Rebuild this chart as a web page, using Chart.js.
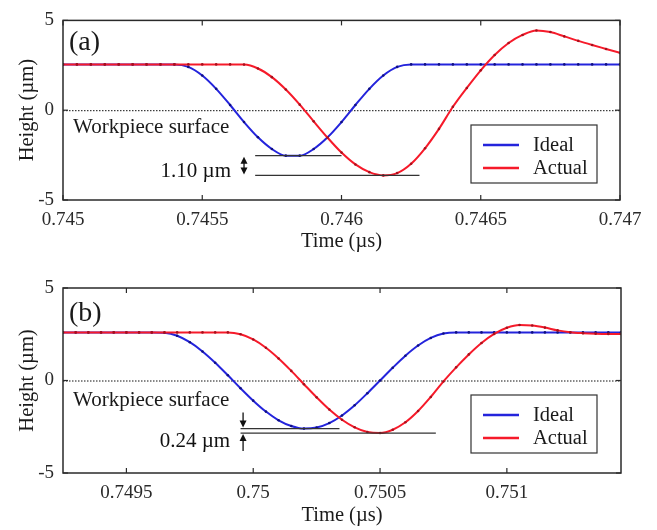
<!DOCTYPE html>
<html>
<head>
<meta charset="utf-8">
<script src="https://cdn.jsdelivr.net/npm/chart.js@4.4.1/dist/chart.umd.min.js"></script>
<style>
  html, body { margin: 0; padding: 0; background: #fff; }
  canvas { display: block; }
</style>
</head>
<body>
<canvas id="chartA" width="657" height="262"></canvas>
<canvas id="chartB" width="657" height="268"></canvas>
<script>
const SERIF = "'Liberation Serif', 'Times New Roman', serif";
const BLUE = '#2424dc';
const RED = '#f61a2a';
const INK = '#2a2a2a';

const seriesNames = ['Ideal', 'Actual'];
const yTicks = [-5, 0, 5];

// panel (a)
const timeA = [0.745, 0.74505, 0.7451, 0.74515, 0.7452, 0.74525, 0.7453, 0.74535, 0.7454, 0.74545,
  0.7455, 0.74555, 0.7456, 0.74565, 0.7457, 0.74575, 0.7458, 0.74585, 0.7459, 0.74595,
  0.746, 0.74605, 0.7461, 0.74615, 0.7462, 0.74625, 0.7463, 0.74635, 0.7464, 0.74645,
  0.7465, 0.74655, 0.7466, 0.74665, 0.7467, 0.74675, 0.7468, 0.74685, 0.7469, 0.74695, 0.747];
const idealA = [2.55, 2.55, 2.55, 2.55, 2.55, 2.55, 2.55, 2.55, 2.55, 2.41,
  1.93, 1.19, 0.29, -0.66, -1.51, -2.16, -2.53, -2.53, -2.16, -1.51,
  -0.66, 0.29, 1.19, 1.93, 2.41, 2.55, 2.55, 2.55, 2.55, 2.55,
  2.55, 2.55, 2.55, 2.55, 2.55, 2.55, 2.55, 2.55, 2.55, 2.55, 2.55];
const actualA = [2.55, 2.55, 2.55, 2.55, 2.55, 2.55, 2.55, 2.55, 2.55, 2.55,
  2.55, 2.55, 2.55, 2.54, 2.32, 1.84, 1.15, 0.31, -0.62, -1.53,
  -2.36, -3.02, -3.45, -3.63, -3.50, -2.98, -2.12, -1.04, 0.19, 1.24,
  2.22, 3.07, 3.74, 4.19, 4.44, 4.35, 4.11, 3.86, 3.63, 3.41, 3.19];
const xTicksA = [0.745, 0.7455, 0.746, 0.7465, 0.747];
const gapA = 1.10;

// panel (b)
const timeB = [0.74925, 0.7493, 0.74935, 0.7494, 0.74945, 0.7495, 0.74955, 0.7496, 0.74965, 0.7497,
  0.74975, 0.7498, 0.74985, 0.7499, 0.74995, 0.75, 0.75005, 0.7501, 0.75015, 0.7502,
  0.75025, 0.7503, 0.75035, 0.7504, 0.75045, 0.7505, 0.75055, 0.7506, 0.75065, 0.7507,
  0.75075, 0.7508, 0.75085, 0.7509, 0.75095, 0.751, 0.75105, 0.7511, 0.75115, 0.7512,
  0.75125, 0.7513, 0.75135, 0.7514, 0.75145];
const idealB = [2.6, 2.6, 2.6, 2.6, 2.6, 2.6, 2.6, 2.6, 2.58, 2.42,
  2.07, 1.57, 0.96, 0.28, -0.42, -1.09, -1.68, -2.15, -2.46, -2.6,
  -2.54, -2.30, -1.89, -1.34, -0.69, 0, 0.69, 1.34, 1.89, 2.30,
  2.54, 2.6, 2.6, 2.6, 2.6, 2.6, 2.6, 2.6, 2.6, 2.6,
  2.6, 2.6, 2.6, 2.6, 2.6];
const actualB = [2.6, 2.6, 2.6, 2.6, 2.6, 2.6, 2.6, 2.6, 2.6, 2.6,
  2.6, 2.6, 2.6, 2.6, 2.50, 2.22, 1.77, 1.19, 0.52, -0.20,
  -0.91, -1.57, -2.12, -2.53, -2.78, -2.84, -2.66, -2.26, -1.65, -0.89,
  -0.05, 0.71, 1.41, 2.03, 2.52, 2.85, 3.00, 2.97, 2.86, 2.71,
  2.61, 2.56, 2.53, 2.52, 2.52];
const xTicksB = [0.7495, 0.75, 0.7505, 0.751];
const gapB = 0.24;

function toPoints(xs, ys) {
    return xs.map((x, i) => ({ x: x, y: ys[i] }));
}

function arrowHead(ctx, x, y, dir) {
    // dir: -1 points up, 1 points down
    ctx.beginPath();
    ctx.moveTo(x, y);
    ctx.lineTo(x - 3.5, y - dir * 7);
    ctx.lineTo(x + 3.5, y - dir * 7);
    ctx.closePath();
    ctx.fill();
}

function line(ctx, x1, y1, x2, y2) {
    ctx.beginPath();
    ctx.moveTo(x1, y1);
    ctx.lineTo(x2, y2);
    ctx.stroke();
}

const decorPlugin = {
    id: 'decor',
    beforeDatasetsDraw(chart) {
        const { ctx, chartArea: a, scales: { y } } = chart;
        const y0 = y.getPixelForValue(0);
        ctx.save();
        ctx.strokeStyle = '#111';
        ctx.lineWidth = 1;
        ctx.setLineDash([1.5, 1.5]);
        line(ctx, a.left, y0 + 0.5, a.right, y0 + 0.5);
        ctx.restore();
    },
    afterDatasetsDraw(chart, args, o) {
        const { ctx, chartArea: a, scales: { x, y } } = chart;
        ctx.save();

        // frame with inward ticks
        ctx.strokeStyle = INK;
        ctx.lineWidth = 1.5;
        ctx.strokeRect(a.left, a.top, a.right - a.left, a.bottom - a.top);
        ctx.lineWidth = 1.2;
        o.xTicks.forEach(v => {
            const px = x.getPixelForValue(v);
            line(ctx, px, a.bottom, px, a.bottom - 5);
            line(ctx, px, a.top, px, a.top + 5);
        });
        yTicks.forEach(v => {
            const py = y.getPixelForValue(v);
            line(ctx, a.left, py, a.left + 5, py);
            line(ctx, a.right, py, a.right - 5, py);
        });

        ctx.fillStyle = '#1a1a1a';
        ctx.textBaseline = 'alphabetic';
        ctx.textAlign = 'left';
        ctx.font = '28px ' + SERIF;
        ctx.fillText(o.tag, a.left + 6, a.top + o.tagDy);

        ctx.font = '21px ' + SERIF;
        ctx.fillText('Workpiece surface', a.left + 10, y.getPixelForValue(0) + o.surfaceDy);

        // depth difference between the two minima
        const low = Math.min(...o.ideal);
        const yHi = y.getPixelForValue(low);
        const yLo = y.getPixelForValue(low - o.gap);
        const x0 = x.getPixelForValue(o.from);
        const xa = x.getPixelForValue(o.arrowAt);
        ctx.strokeStyle = '#333';
        ctx.lineWidth = 1.3;
        line(ctx, x0, yHi, x.getPixelForValue(o.toHi), yHi);
        line(ctx, x0, yLo, x.getPixelForValue(o.toLo), yLo);
        ctx.fillStyle = '#111';
        ctx.strokeStyle = '#111';
        if (o.arrows === 'inside') {
            line(ctx, xa, yHi + 5, xa, yLo - 5);
            arrowHead(ctx, xa, yHi + 1, -1);
            arrowHead(ctx, xa, yLo - 1, 1);
        } else {
            line(ctx, xa, yHi - 16, xa, yHi - 4);
            arrowHead(ctx, xa, yHi - 1, 1);
            line(ctx, xa, yLo + 18, xa, yLo + 4);
            arrowHead(ctx, xa, yLo + 1, -1);
        }
        ctx.textAlign = 'right';
        ctx.fillText(o.gap.toFixed(2) + ' \u00b5m', xa - 13, yLo + o.labelDy);

        // legend
        const lx = 471, ly = o.legendTop, lw = 126, lh = 58;
        ctx.fillStyle = '#fff';
        ctx.fillRect(lx, ly, lw, lh);
        ctx.strokeStyle = '#333';
        ctx.lineWidth = 1.2;
        ctx.strokeRect(lx, ly, lw, lh);
        ctx.font = '20.5px ' + SERIF;
        ctx.textAlign = 'left';
        ctx.textBaseline = 'middle';
        chart.data.datasets.slice().sort((p, q) => p.legendIndex - q.legendIndex).forEach((ds, i) => {
            const ry = ly + 20 + i * 23;
            ctx.strokeStyle = ds.borderColor;
            ctx.lineWidth = 2.6;
            line(ctx, lx + 12, ry, lx + 48, ry);
            ctx.fillStyle = '#1a1a1a';
            ctx.fillText(ds.label, lx + 62, ry + 1);
        });
        ctx.restore();
    }
};

function makePanel(id, cfg) {
    const canvas = document.getElementById(id);
    const tickFont = { family: SERIF, size: 19 };
    const titleFont = { family: SERIF, size: 20.5 };
    return new Chart(canvas.getContext('2d'), {
        type: 'line',
        data: {
            datasets: [{
                label: seriesNames[1],
                legendIndex: 1,
                order: 0,
                data: toPoints(cfg.time, cfg.actual),
                borderColor: RED,
                pointBackgroundColor: '#a8101c',
                pointBorderWidth: 0,
                pointRadius: 1.3,
                borderWidth: 2,
                cubicInterpolationMode: 'monotone'
            }, {
                label: seriesNames[0],
                legendIndex: 0,
                order: 1,
                data: toPoints(cfg.time, cfg.ideal),
                borderColor: BLUE,
                pointBackgroundColor: '#101080',
                pointBorderWidth: 0,
                pointRadius: 1.3,
                borderWidth: 2,
                cubicInterpolationMode: 'monotone'
            }]
        },
        options: {
            responsive: false,
            animation: false,
            layout: { padding: { top: cfg.top, right: cfg.right, left: 0, bottom: 0 } },
            plugins: {
                legend: { display: false },
                tooltip: { enabled: false },
                decor: {
                    tag: cfg.tag,
                    tagDy: cfg.tagDy,
                    surfaceDy: cfg.surfaceDy,
                    xTicks: cfg.xTicks,
                    ideal: cfg.ideal,
                    gap: cfg.gap,
                    from: cfg.from,
                    toHi: cfg.toHi,
                    toLo: cfg.toLo,
                    arrowAt: cfg.arrowAt,
                    arrows: cfg.arrows,
                    labelDy: cfg.labelDy,
                    legendTop: cfg.legendTop
                }
            },
            scales: {
                x: {
                    type: 'linear',
                    min: cfg.xMin,
                    max: cfg.xMax,
                    afterBuildTicks: s => { s.ticks = cfg.xTicks.map(v => ({ value: v })); },
                    afterFit: s => { s.height = cfg.xAxisHeight; },
                    grid: { display: false, drawTicks: false },
                    border: { display: false },
                    ticks: {
                        autoSkip: false,
                        maxRotation: 0,
                        padding: cfg.xTickPad,
                        color: INK,
                        font: tickFont,
                        callback: v => String(+v.toFixed(4))
                    },
                    title: {
                        display: true,
                        text: 'Time (\u00b5s)',
                        color: '#1a1a1a',
                        font: titleFont,
                        padding: { top: 0, bottom: cfg.xTitlePad }
                    }
                },
                y: {
                    min: -5,
                    max: 5,
                    afterBuildTicks: s => { s.ticks = yTicks.map(v => ({ value: v })); },
                    afterFit: s => { s.width = 63; },
                    grid: { display: false, drawTicks: false },
                    border: { display: false },
                    ticks: { padding: 9, color: INK, font: tickFont },
                    title: {
                        display: true,
                        text: 'Height (\u00b5m)',
                        color: '#1a1a1a',
                        font: titleFont,
                        padding: { top: 15, bottom: 0 }
                    }
                }
            }
        },
        plugins: [decorPlugin]
    });
}

makePanel('chartA', {
    tag: '(a)', tagDy: 30, surfaceDy: 23,
    time: timeA, ideal: idealA, actual: actualA, xTicks: xTicksA,
    xMin: 0.745, xMax: 0.747, top: 16, right: 37,
    xAxisHeight: 62, xTickPad: 9, xTitlePad: 8,
    gap: gapA, from: 0.74569, toHi: 0.746, toLo: 0.74628, arrowAt: 0.74565,
    arrows: 'inside', labelDy: 2, legendTop: 125
});

makePanel('chartB', {
    tag: '(b)', tagDy: 33, surfaceDy: 25,
    time: timeB, ideal: idealB, actual: actualB, xTicks: xTicksB,
    xMin: 0.74925, xMax: 0.75145, top: 26, right: 36,
    xAxisHeight: 57, xTickPad: 9, xTitlePad: 2,
    gap: gapB, from: 0.74995, toHi: 0.75034, toLo: 0.75072, arrowAt: 0.74996,
    arrows: 'outside', labelDy: 14, legendTop: 133
});
</script>
</body>
</html>
